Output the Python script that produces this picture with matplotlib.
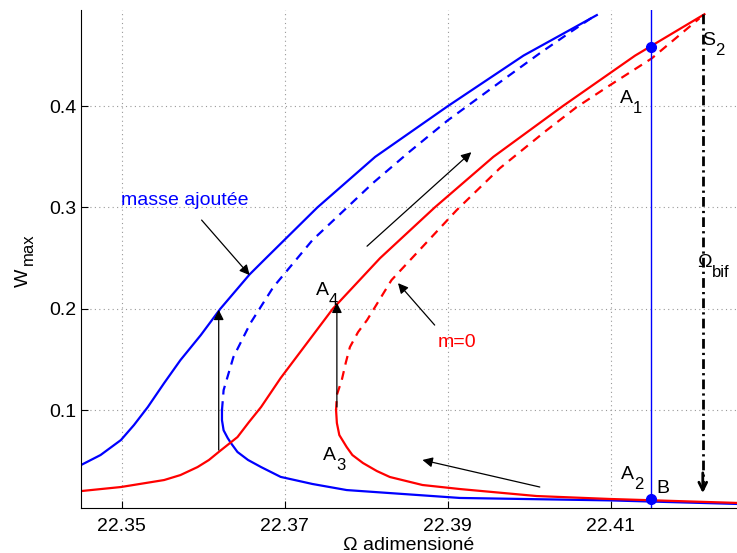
import matplotlib
matplotlib.use("Agg")
import matplotlib.pyplot as plt

plt.rcParams["font.family"] = ["Liberation Sans", "DejaVu Sans"]

# ---- data (Omega, W_max) ----
blue_up_x = [22.3450, 22.3474, 22.3499, 22.3515, 22.3532, 22.3552, 22.3572, 22.3597,
             22.3621, 22.3657, 22.3677, 22.3740, 22.3811, 22.3900, 22.3993, 22.4083]
blue_up_y = [0.0457, 0.0556, 0.0704, 0.0852, 0.1030, 0.1266, 0.1493, 0.1740,
             0.2000, 0.2340, 0.2500, 0.3000, 0.3500, 0.4000, 0.4500, 0.4900]

blue_dash_x = [22.3623, 22.3625, 22.3637, 22.3658, 22.3686, 22.3734, 22.3764, 22.3808,
               22.3853, 22.3900, 22.3964, 22.4013, 22.4053, 22.4078]
blue_dash_y = [0.1000, 0.1197, 0.1523, 0.1859, 0.2214, 0.2678, 0.2905, 0.3240,
               0.3550, 0.3860, 0.4237, 0.4523, 0.4745, 0.4880]

blue_low_x = [22.3623, 22.3623, 22.3625, 22.3630, 22.3634, 22.3642, 22.3655, 22.3671,
              22.3695, 22.3734, 22.3776, 22.3915, 22.4099, 22.4255]
blue_low_y = [0.1000, 0.0900, 0.0800, 0.0724, 0.0674, 0.0586, 0.0507, 0.0437,
              0.0340, 0.0270, 0.0210, 0.0132, 0.0108, 0.0073]

red_up_x = [22.3450, 22.3499, 22.3552, 22.3572, 22.3593, 22.3607, 22.3619, 22.3642,
            22.3656, 22.3671, 22.3695, 22.3759, 22.3817, 22.3884, 22.3956, 22.4041,
            22.4130, 22.4215]
red_up_y = [0.0200, 0.0240, 0.0309, 0.0358, 0.0437, 0.0507, 0.0586, 0.0733,
            0.0880, 0.1030, 0.1316, 0.2000, 0.2500, 0.3000, 0.3500, 0.4000,
            0.4500, 0.4908]

red_dash_x = [22.3763, 22.3764, 22.3770, 22.3775, 22.3780, 22.3790, 22.3801, 22.3831,
              22.3911, 22.3964, 22.4021, 22.4058, 22.4099, 22.4150, 22.4209]
red_dash_y = [0.1000, 0.1150, 0.1296, 0.1470, 0.1622, 0.1770, 0.1888, 0.2283,
              0.2974, 0.3388, 0.3760, 0.3990, 0.4207, 0.4470, 0.4868]

red_low_x = [22.3763, 22.3764, 22.3767, 22.3776, 22.3783, 22.3796, 22.3813, 22.3829,
             22.3869, 22.3915, 22.4009, 22.4099, 22.4255]
red_low_y = [0.1000, 0.0872, 0.0753, 0.0635, 0.0556, 0.0477, 0.0398, 0.0339,
             0.0260, 0.0220, 0.0151, 0.0122, 0.0083]

omega_b = 22.4150            # blue vertical line
dots_y = [0.4580, 0.0118]     # A1 and B
omega_bif = 22.4213
bif_top, bif_bottom = 0.4908, 0.0180

# arrows: (x_start, y_start, x_tip, y_tip)
arrows = [
    (22.3598, 0.2876, 22.3657, 0.2332),
    (22.3619, 0.0605, 22.3619, 0.1990),
    (22.3764, 0.1030, 22.3764, 0.2060),
    (22.3801, 0.2618, 22.3929, 0.3546),
    (22.3884, 0.1839, 22.3839, 0.2253),
    (22.4013, 0.0240, 22.3869, 0.0507),
]

# labels: (text, subscript, x, y, color)
labels = [
    ("masse ajoutée", "", 22.3499, 0.3023, "blue"),
    ("m=0", "", 22.3888, 0.1622, "red"),
    ("A", "1", 22.4111, 0.4030, "black"),
    ("A", "2", 22.4113, 0.0320, "black"),
    ("A", "3", 22.3747, 0.0507, "black"),
    ("A", "4", 22.3738, 0.2135, "black"),
    ("B", "", 22.4156, 0.0181, "black"),
    ("S", "2", 22.4212, 0.4602, "black"),
    ("Ω", "bif", 22.4206, 0.2411, "black"),
]

fig = plt.figure(figsize=(7.37, 5.53), dpi=100)
ax = fig.add_axes([0.1099, 0.0814, 0.8901, 0.9005])

line_kw = dict(lw=1.6, solid_joinstyle="round", dash_joinstyle="round")
ax.plot(blue_up_x, blue_up_y, color="blue", **line_kw)
ax.plot(blue_dash_x, blue_dash_y, color="blue", ls=(0, (4, 3)), **line_kw)
ax.plot(blue_low_x, blue_low_y, color="blue", **line_kw)
ax.plot(red_up_x, red_up_y, color="red", **line_kw)
ax.plot(red_dash_x, red_dash_y, color="red", ls=(0, (4, 3)), **line_kw)
ax.plot(red_low_x, red_low_y, color="red", **line_kw)

ax.axvline(omega_b, color="blue", lw=1.0)
ax.plot([omega_b] * len(dots_y), dots_y, "o", color="blue", ms=7, clip_on=False)

ax.plot([omega_bif, omega_bif], [bif_top, bif_bottom + 0.004], color="black",
        lw=2, ls=(0, (3.5, 1.5, 0.8, 1.5)))
ax.annotate("", xy=(omega_bif, bif_bottom), xytext=(omega_bif, bif_bottom + 0.02),
            arrowprops=dict(arrowstyle="->", color="black", lw=2, mutation_scale=14,
                            shrinkA=0, shrinkB=0))

for x0, y0, x1, y1 in arrows:
    ax.annotate("", xy=(x1, y1), xytext=(x0, y0),
                arrowprops=dict(arrowstyle="-|>", color="black", lw=0.9,
                                mutation_scale=15, shrinkA=0, shrinkB=0))

renderer = fig.canvas.get_renderer()
for txt, sub, x, y, c in labels:
    t = ax.text(x, y, txt, color=c, fontsize=14, va="baseline")
    if sub:
        w = t.get_window_extent(renderer).width * 72 / fig.dpi
        ax.annotate(sub, xy=(x, y), xytext=(w, -7), textcoords="offset points",
                    color=c, fontsize=12, va="baseline")

ax.set_xlim(22.345, 22.4255)
ax.set_ylim(0.0033, 0.495)
ax.set_xticks([22.35, 22.37, 22.39, 22.41])
ax.set_xticklabels(["22.35", "22.37", "22.39", "22.41"])
ax.set_yticks([0.1, 0.2, 0.3, 0.4])
ax.set_yticklabels(["0.1", "0.2", "0.3", "0.4"])
ax.tick_params(direction="in", labelsize=14, length=5)
ax.tick_params(axis="x", pad=7)
ax.tick_params(axis="y", pad=3)
ax.grid(True, ls=(0, (1, 3)), color="#999999", lw=0.8)
ax.spines["top"].set_visible(False)
ax.spines["right"].set_visible(False)
ax.set_xlabel("Ω adimensioné", fontsize=14, labelpad=2)

# y label: W with subscript "max", rotated
fig.text(28 / 737, 1 - 287 / 553, "W", fontsize=14, rotation=90,
         rotation_mode="anchor", ha="left", va="baseline")
fig.text(33 / 737, 1 - 265 / 553, "max", fontsize=12, rotation=90,
         rotation_mode="anchor", ha="left", va="baseline")

fig.savefig("out.png", dpi=100)
